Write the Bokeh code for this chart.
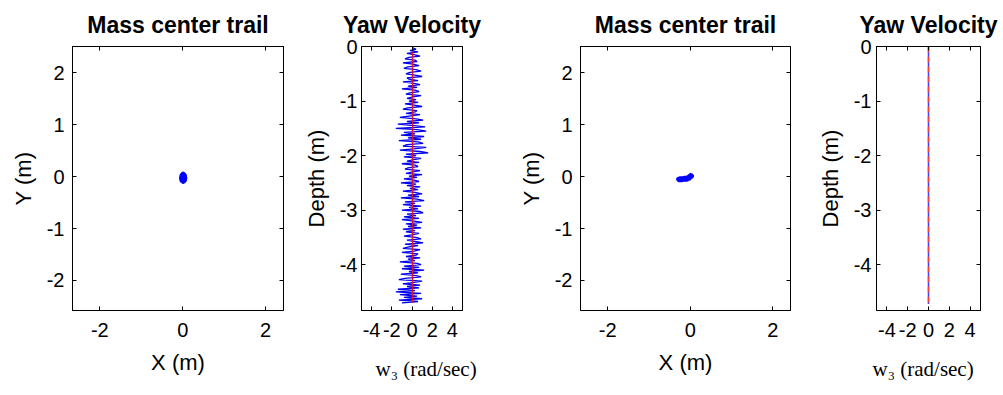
from bokeh.plotting import figure
from bokeh.layouts import row
from bokeh.models import Range1d, LinearAxis, FixedTicker, Title
from bokeh.embed import file_html
from bokeh.resources import INLINE

# ---------------- data ----------------
# Mass center trail, run 1 (m)
trail1_x = [0.00, 0.02, 0.04, 0.05, 0.04, 0.01, -0.02, -0.03, -0.02, 0.01, 0.03, 0.02, -0.01, -0.02, 0.00, 0.02]
trail1_y = [0.00, 0.04, 0.02, -0.03, -0.07, -0.09, -0.07, -0.03, 0.02, 0.05, 0.01, -0.05, -0.08, -0.04, -0.01, -0.06]

# Mass center trail, run 2 (m)
trail2_x = [0.03, 0.01, -0.02, -0.05, -0.09, -0.13, -0.17, -0.21, -0.25, -0.28, -0.26, -0.22, -0.18, -0.14, -0.10, -0.06, -0.03, 0.00, 0.02]
trail2_y = [0.01, 0.02, 0.00, -0.02, -0.03, -0.03, -0.04, -0.04, -0.04, -0.05, -0.06, -0.06, -0.05, -0.05, -0.05, -0.04, -0.03, -0.01, 0.02]

# Yaw velocity, run 1: depth (m) and w3 (rad/sec)
yaw1_depth = [
    -0.025, -0.050, -0.075, -0.100, -0.125, -0.150, -0.175, -0.200, -0.225, -0.250,
    -0.275, -0.300, -0.325, -0.350, -0.375, -0.400, -0.425, -0.450, -0.475, -0.500,
    -0.525, -0.550, -0.575, -0.600, -0.625, -0.650, -0.675, -0.700, -0.725, -0.750,
    -0.775, -0.800, -0.825, -0.850, -0.875, -0.900, -0.925, -0.950, -0.975, -1.000,
    -1.025, -1.050, -1.075, -1.100, -1.125, -1.150, -1.175, -1.200, -1.225, -1.250,
    -1.275, -1.300, -1.325, -1.350, -1.375, -1.400, -1.425, -1.450, -1.475, -1.500,
    -1.525, -1.550, -1.575, -1.600, -1.625, -1.650, -1.675, -1.700, -1.725, -1.750,
    -1.775, -1.800, -1.825, -1.850, -1.875, -1.900, -1.925, -1.950, -1.975, -2.000,
    -2.025, -2.050, -2.075, -2.100, -2.125, -2.150, -2.175, -2.200, -2.225, -2.250,
    -2.275, -2.300, -2.325, -2.350, -2.375, -2.400, -2.425, -2.450, -2.475, -2.500,
    -2.525, -2.550, -2.575, -2.600, -2.625, -2.650, -2.675, -2.700, -2.725, -2.750,
    -2.775, -2.800, -2.825, -2.850, -2.875, -2.900, -2.925, -2.950, -2.975, -3.000,
    -3.025, -3.050, -3.075, -3.100, -3.125, -3.150, -3.175, -3.200, -3.225, -3.250,
    -3.275, -3.300, -3.325, -3.350, -3.375, -3.400, -3.425, -3.450, -3.475, -3.500,
    -3.525, -3.550, -3.575, -3.600, -3.625, -3.650, -3.675, -3.700, -3.725, -3.750,
    -3.775, -3.800, -3.825, -3.850, -3.875, -3.900, -3.925, -3.950, -3.975, -4.000,
    -4.025, -4.050, -4.075, -4.100, -4.125, -4.150, -4.175, -4.200, -4.225, -4.250,
    -4.275, -4.300, -4.325, -4.350, -4.375, -4.400, -4.425, -4.450, -4.475, -4.500,
    -4.525, -4.550, -4.575, -4.600, -4.625, -4.650, -4.675, -4.700]
yaw1_w3 = [
    0.1, 0.4, -0.2, 0.6, -0.5, 0.2, 0.8, -0.3, -0.7, 0.3,
    0.5, -0.9, 0.1, 0.7, -0.4, -0.8, 0.4, 0.9, -0.2, -0.6,
    0.3, 1.0, -0.5, -0.3, 0.6, -0.9, 0.2, 0.8, -0.4, 0.5,
    -1.0, 0.3, 0.7, -0.2, -0.6, 0.9, 0.1, -0.5, 0.4, -0.3,
    0.6, -0.7, 0.2, 1.0, -0.4, -0.9, 0.5, 0.3, -0.6, 0.8,
    -0.3, -1.2, 0.4, 1.1, -0.5, 0.7, -1.4, 0.2, 1.3, -1.6,
    0.5, 1.4, -0.8, 0.3, -1.1, 1.2, -0.4, 0.9, -1.3, 0.6,
    1.1, -0.5, -0.9, 1.4, 0.2, -1.2, 0.8, 1.6, -0.6, 0.4,
    -0.8, 0.9, 0.2, -0.5, 0.7, -1.0, 0.3, 0.6, -0.4, -0.7,
    0.8, 0.1, -0.6, 1.0, -0.3, 0.5, -0.8, 0.2, 0.7, -1.1,
    0.4, -0.5, 0.8, -0.2, 0.6, -0.9, 0.3, 1.0, -0.4, 0.7,
    -1.1, 0.5, 1.2, -0.7, 0.3, -0.9, 0.9, -0.3, 0.6, -1.0,
    0.8, 1.1, -0.5, 0.4, -0.8, 0.7, -1.0, 0.2, 1.0, -0.6,
    0.5, -0.4, 0.9, -0.9, 0.3, -0.6, 0.7, 0.1, -0.8, 0.4,
    0.9, -0.5, 0.3, 1.1, -0.7, 0.6, -0.3, -0.9, 0.8, 0.2,
    -1.0, 0.6, 0.4, -0.6, 0.8, -0.4, 0.3, -1.2, 0.5, 0.9,
    -0.8, 0.7, -1.0, 1.2, -0.3, 0.6, -1.1, 0.4, 0.9, -0.7,
    -1.3, 1.0, 0.2, -0.9, 0.8, -0.5, 0.7, -1.4, 0.3, -1.6,
    0.9, -1.2, 0.5, -0.8, 1.0, -1.3, 0.6, -1.0]
ref1_depth = [-0.10, -4.70]
ref1_w3 = [0.05, 0.05]

# Yaw velocity, run 2
yaw2_depth = [0.0, -4.72]
yaw2_w3 = [0.0, 0.0]
ref2_depth = [0.0, -4.72]
ref2_w3 = [0.0, 0.0]

trail_xticks = [-2, 0, 2]
trail_yticks = [-2, -1, 0, 1, 2]
yaw_xticks = [-4, -2, 0, 2, 4]
yaw_yticks = [-4, -3, -2, -1, 0]

# ---------------- styling ----------------
SANS = "Liberation Sans"
SERIF = "Liberation Serif"
TICK_FS = "20px"
LABEL_FS = "22px"
TITLE_FS = "23px"


def style_axis(ax, ticks, show_labels, standoff):
    ax.ticker = FixedTicker(ticks=ticks)
    ax.axis_line_color = "black"
    ax.axis_line_width = 1
    ax.major_tick_line_color = "black"
    ax.major_tick_in = 4
    ax.major_tick_out = 0
    ax.minor_tick_line_color = None
    ax.major_label_text_font = SANS
    if show_labels:
        ax.major_label_text_color = "black"
        ax.major_label_text_font_size = TICK_FS
        ax.major_label_standoff = standoff
        ax.major_label_overrides = {t: str(t) for t in ticks}
    else:
        ax.major_label_text_color = None
        ax.major_label_text_font_size = "0px"
        ax.major_label_standoff = 0


def make_fig(width, left, right, xr, yr, title, xticks, yticks,
             ylabel, xlabel, ystandoff, xstandoff):
    p = figure(width=width, height=395,
               x_range=Range1d(*xr), y_range=Range1d(*yr),
               output_backend="svg", toolbar_location=None,
               min_border_left=left, min_border_right=right,
               min_border_top=46, min_border_bottom=83)
    p.grid.visible = False
    p.background_fill_color = "white"
    p.border_fill_color = "white"
    p.outline_line_color = "black"
    p.outline_line_width = 1

    p.title.text = title
    p.title.text_font = SANS
    p.title.text_font_style = "bold"
    p.title.text_font_size = TITLE_FS
    p.title.text_color = "black"
    p.title.align = "center"
    p.title.standoff = 17

    style_axis(p.xaxis[0], xticks, True, xstandoff)
    style_axis(p.yaxis[0], yticks, True, ystandoff)
    p.yaxis[0].axis_label = ylabel
    p.yaxis[0].axis_label_text_font = SANS
    p.yaxis[0].axis_label_text_font_style = "normal"
    p.yaxis[0].axis_label_text_font_size = LABEL_FS
    p.yaxis[0].axis_label_text_color = "black"
    p.yaxis[0].axis_label_standoff = 8
    if xlabel:
        p.xaxis[0].axis_label = xlabel
        p.xaxis[0].axis_label_text_font = SANS
        p.xaxis[0].axis_label_text_font_style = "normal"
        p.xaxis[0].axis_label_text_font_size = LABEL_FS
        p.xaxis[0].axis_label_text_color = "black"
        p.xaxis[0].axis_label_standoff = 10

    top = LinearAxis()
    style_axis(top, xticks, False, 0)
    p.add_layout(top, "above")
    rgt = LinearAxis()
    style_axis(rgt, yticks, False, 0)
    p.add_layout(rgt, "right")
    return p


def add_w3_label(p, offset):
    t = Title(text="w\u2083 (rad/sec)", align="left", offset=offset,
              text_font=SERIF, text_font_size="21px",
              text_font_style="normal", text_color="black", standoff=30)
    p.add_layout(t, "below")


trail_xr = (-2.66, 2.43)
trail_yr = (-2.58, 2.51)
yaw_xr = (-5, 5)
yaw_yr = (-4.84, 0)

p1 = make_fig(300, 72, 17, trail_xr, trail_yr, "Mass center trail",
              trail_xticks, trail_yticks, "Y (m)", "X (m)", 8, 12)
p1.line(trail1_x, trail1_y, line_color="#0000ff", line_width=5,
        line_join="round", line_cap="round")

p2 = make_fig(200, 58, 38, yaw_xr, yaw_yr, "Yaw Velocity",
              yaw_xticks, yaw_yticks, "Depth (m)", None, 4, 12)
p2.line(yaw1_w3, yaw1_depth, line_color="#0000ee", line_width=1.3)
p2.line(ref1_w3, ref1_depth, line_color="#e0102a", line_width=1.4)
add_w3_label(p2, 14)

p3 = make_fig(310, 80, 20, trail_xr, trail_yr, "Mass center trail",
              trail_xticks, trail_yticks, "Y (m)", "X (m)", 8, 12)
p3.line(trail2_x, trail2_y, line_color="#0000ff", line_width=5,
        line_join="round", line_cap="round")

p4 = make_fig(193, 66, 23, yaw_xr, yaw_yr, "Yaw Velocity",
              yaw_xticks, yaw_yticks, "Depth (m)", None, 5, 12)
p4.line(yaw2_w3, yaw2_depth, line_color="#4040ff", line_width=1.5)
p4.line(ref2_w3, ref2_depth, line_color="#f04040", line_width=1.5,
        line_dash="6 4")
add_w3_label(p4, -4)

layout = row(p1, p2, p3, p4)
open("out.html", "w").write(file_html(layout, INLINE))
